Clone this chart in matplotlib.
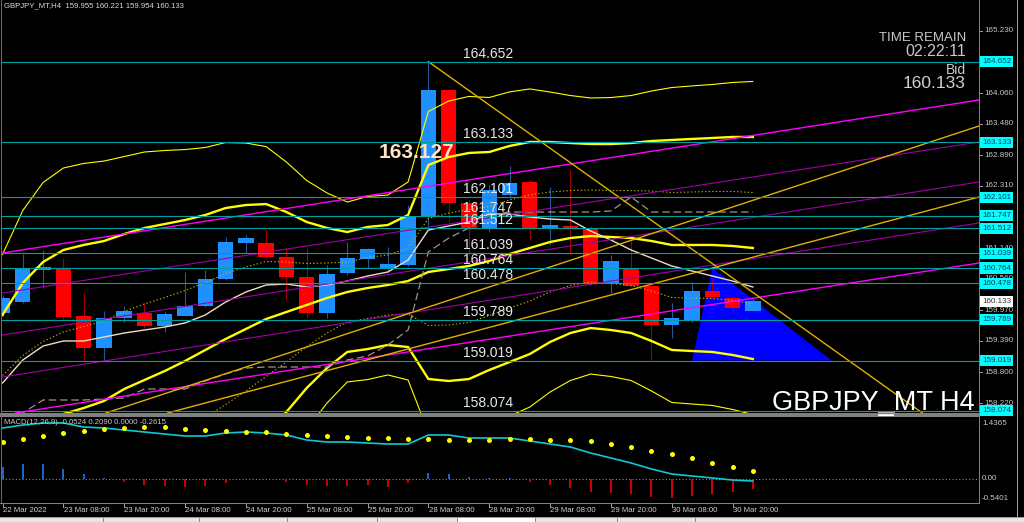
import matplotlib
matplotlib.use("Agg")
import matplotlib.pyplot as plt
from matplotlib.patches import Rectangle, Polygon
from matplotlib.transforms import blended_transform_factory, offset_copy
import numpy as np

plt.rcParams["font.family"] = ["Liberation Sans", "DejaVu Sans"]

# ---------------- data ----------------
title_text = "GBPJPY_MT,H4  159.955 160.221 159.954 160.133"
opens = [159.916, 160.123, 160.726, 160.764, 159.860, 159.257, 159.822, 159.916, 159.671, 159.860,
         160.048, 160.557, 161.235, 161.235, 160.971, 160.595, 159.916, 160.670, 160.934, 160.764,
         160.821, 161.744, 164.118, 161.989, 161.518, 162.140, 162.385, 161.518, 161.556, 161.499,
         160.481, 160.745, 160.425, 159.690, 159.784, 160.331, 160.199, 159.955]
highs = [160.255, 161.028, 161.103, 160.953, 160.293, 159.954, 160.048, 160.123, 159.954, 160.689,
         160.726, 161.348, 161.386, 161.499, 161.141, 161.141, 160.821, 161.254, 161.141, 161.160,
         161.951, 164.652, 164.137, 162.045, 162.328, 162.686, 162.422, 162.290, 162.611, 161.556,
         161.009, 161.292, 160.425, 160.105, 160.500, 160.538, 160.237, 160.221]
lows = [159.860, 160.105, 160.387, 159.803, 159.031, 159.031, 159.747, 159.634, 159.558, 159.860,
        160.029, 160.538, 161.047, 160.953, 160.161, 159.841, 159.822, 160.632, 160.764, 160.689,
        160.802, 161.537, 161.631, 161.009, 161.442, 162.083, 161.292, 161.198, 161.047, 160.444,
        160.293, 160.406, 159.031, 159.445, 159.747, 160.199, 159.916, 159.954]
closes = [160.199, 160.764, 160.783, 159.841, 159.257, 159.822, 159.954, 159.671, 159.897, 160.048,
          160.557, 161.254, 161.329, 160.971, 160.595, 159.916, 160.651, 160.953, 161.122, 160.839,
          161.744, 164.118, 161.989, 161.518, 162.234, 162.366, 161.518, 161.574, 161.499, 160.481,
          160.896, 160.425, 159.690, 159.822, 160.331, 160.218, 160.010, 160.133]

bb_mid = [157.599, 157.749, 157.881, 158.013, 158.126, 158.258, 158.484, 158.654, 158.823, 159.012,
          159.219, 159.426, 159.615, 159.803, 159.935, 160.067, 160.199, 160.312, 160.387, 160.444,
          160.519, 160.689, 160.745, 160.802, 160.896, 161.028, 161.141, 161.254, 161.329, 161.367,
          161.348, 161.329, 161.273, 161.198, 161.198, 161.198, 161.179, 161.141]
bb_sd = [1.140, 1.366, 1.498, 1.545, 1.536, 1.507, 1.460, 1.432, 1.385, 1.328,
         1.272, 1.234, 1.168, 1.083, 0.942, 0.782, 0.660, 0.565, 0.575, 0.565,
         0.622, 1.008, 1.055, 1.065, 1.027, 1.018, 0.999, 0.942, 0.895, 0.867,
         0.876, 0.895, 0.942, 0.989, 0.999, 1.008, 1.027, 1.046]

ma_fast = [158.597, 159.031, 159.294, 159.389, 159.389, 159.464, 159.539, 159.596, 159.652, 159.728,
           159.879, 160.123, 160.312, 160.444, 160.463, 160.406, 160.444, 160.519, 160.613, 160.689,
           160.915, 161.480, 161.556, 161.631, 161.782, 161.782, 161.725, 161.687, 161.669, 161.461,
           161.292, 161.103, 160.953, 160.802, 160.708, 160.613, 160.519, 160.406]
ma_step = [157.712, 158.032, 158.277, 158.277, 158.277, 158.296, 158.315, 158.484, 158.484, 158.484,
           158.635, 158.767, 158.880, 158.899, 158.899, 158.899, 158.899, 159.031, 159.106, 159.313,
           159.596, 161.066, 161.329, 161.518, 161.763, 161.819, 161.819, 161.819, 161.819, 161.819,
           161.838, 162.102, 161.819, 161.819, 161.819, 161.819, 161.819, 161.819]

macd_main = [1.308, 1.385, 1.437, 1.437, 1.334, 1.308, 1.257, 1.206, 1.154, 1.103,
             1.103, 1.180, 1.206, 1.180, 1.129, 1.001, 0.949, 0.949, 0.924, 0.898,
             0.898, 1.129, 1.129, 1.052, 1.052, 1.052, 0.975, 0.898, 0.821, 0.667,
             0.539, 0.410, 0.257, 0.128, 0.077, 0.026, -0.026, -0.0524]
macd_signal = [0.949, 1.026, 1.103, 1.180, 1.231, 1.283, 1.308, 1.334, 1.334, 1.283,
               1.257, 1.231, 1.206, 1.206, 1.154, 1.129, 1.103, 1.077, 1.052, 1.052,
               1.026, 1.026, 1.001, 1.001, 1.001, 1.026, 1.026, 1.001, 1.001, 0.975,
               0.898, 0.821, 0.718, 0.641, 0.539, 0.410, 0.308, 0.209]
macd_hist = [0.308, 0.385, 0.385, 0.257, 0.128, 0.030, -0.077, -0.154, -0.180, -0.205,
             -0.180, -0.103, -0.010, -0.010, -0.077, -0.154, -0.180, -0.180, -0.154, -0.205,
             -0.103, 0.154, 0.128, 0.051, 0.026, 0.026, -0.080, -0.154, -0.231, -0.330,
             -0.360, -0.380, -0.460, -0.490, -0.440, -0.390, -0.340, -0.2615]
macd_label = "MACD(12,26,9) -0.0524 0.2090 0.0000 -0.2615"

levels = [164.652, 163.133, 162.101, 161.747, 161.512, 161.039, 160.764, 160.478, 159.789, 159.019, 158.074]
level_labels = ["164.652", "163.133", "162.101", "161.747", "161.512", "161.039", "160.764", "160.478",
                "159.789", "159.019", "158.074"]
price_ticks = [165.230, 164.060, 163.480, 162.890, 162.310, 161.140, 160.560, 159.970, 159.390, 158.800, 158.220]
price_tick_labels = ["165.230", "164.060", "163.480", "162.890", "162.310", "161.140", "160.560",
                     "159.970", "159.390", "158.800", "158.220"]
macd_ticks = [1.4365, 0.0, -0.5401]
macd_tick_labels = ["1.4365", "0.00", "-0.5401"]
time_labels = ["22 Mar 2022", "23 Mar 08:00", "23 Mar 20:00", "24 Mar 08:00", "24 Mar 20:00",
               "25 Mar 08:00", "25 Mar 20:00", "28 Mar 08:00", "28 Mar 20:00", "29 Mar 08:00",
               "29 Mar 20:00", "30 Mar 08:00", "30 Mar 20:00"]
bid_price = 160.133
marked_price = "163.127"

# chart objects (bar index, price)
triangle_pts = [(34.0, 159.019), (35.0, 160.764), (40.9, 159.019)]
gold_down = [(21.0, 164.652), (45.5, 157.994)]
gold_up1 = [(4.8, 157.994), (48.15, 163.440)]
gold_up2 = [(7.77, 157.994), (48.15, 162.102)]
chan_e = [(0.0, 161.047), (48.15, 163.930)]
chan_a = [(0.0, 160.293), (48.15, 163.138)]
chan_b = [(0.0, 159.502), (48.15, 162.385)]
chan_c = [(0.0, 158.710), (48.15, 161.612)]
chan_d = [(0.0, 157.994), (48.15, 160.858)]

# ---------------- figure ----------------
W, H = 1024, 522
fig = plt.figure(figsize=(W / 100, H / 100), dpi=100, facecolor="black")


def fbox(x0, y0, x1, y1):
    return [x0 / W, 1 - y1 / H, (x1 - x0) / W, (y1 - y0) / H]


def prect(x0, y0, x1, y1, color, z=10):
    fig.add_artist(Rectangle((x0 / W, 1 - y1 / H), (x1 - x0) / W, (y1 - y0) / H,
                             transform=fig.transFigure, facecolor=color, edgecolor="none", zorder=z))


STEP = 20.28
X0PX = 2.5
xlim = ((2 - X0PX) / STEP, (979 - X0PX) / STEP)

ax = fig.add_axes(fbox(2, 0, 979, 413))
ax.set_facecolor("black")
ax.set_xlim(*xlim)
ax.set_ylim(158.032, 165.814)
ax.set_axis_off()

X = np.arange(len(closes))
o = np.array(opens); c = np.array(closes); hi = np.array(highs); lo = np.array(lows)
up = c >= o

# triangle (background object)
ax.add_patch(Polygon(triangle_pts, closed=True, facecolor="#0000ff", edgecolor="none", zorder=1))

# candles
wick_cols = ["#1f5a96" if u else "#a00000" for u in up]
ax.vlines(X, lo, hi, colors=wick_cols, lw=0.8, zorder=3)
body_bot = np.minimum(o, c)
body_h = np.maximum(np.abs(c - o), 0.03)
ax.bar(X, body_h, bottom=body_bot, width=0.76,
       color=["#1e90ff" if u else "#ff0000" for u in up], edgecolor="none", zorder=3)

# Bollinger bands (middle, +-1 sd dotted, +-2 sd thick, +-3 sd thin)
mid = np.array(bb_mid); sd = np.array(bb_sd)
ax.plot(X, mid, color="#ffff00", lw=1.7, zorder=4)
for k, lw in [(2, 1.7), (3, 0.8)]:
    ax.plot(X, mid + k * sd, color="#ffff00", lw=lw, zorder=4)
    ax.plot(X, mid - k * sd, color="#ffff00", lw=lw, zorder=4)
ax.plot(X, mid + sd, color="#b8b800", lw=0.8, ls=(0, (1.2, 2.0)), zorder=4)
ax.plot(X, mid - sd, color="#b8b800", lw=0.8, ls=(0, (1.2, 2.0)), zorder=4)

# moving averages
ax.plot(X, ma_fast, color="#f0dcc4", lw=1.0, zorder=4)
ax.plot(X, ma_step, color="#a09484", lw=0.9, ls=(0, (6, 3)), zorder=4)

# channel lines (extended both ways)
for pts, col, lw in [(chan_e, "#ff00ff", 1.0), (chan_d, "#ff00ff", 1.0),
                     (chan_a, "#a000a8", 0.8), (chan_b, "#a000a8", 0.8), (chan_c, "#a000a8", 0.8),
                     (gold_up1, "#e0b000", 1.0), (gold_up2, "#e0b000", 1.0)]:
    ax.axline(pts[0], pts[1], color=col, lw=lw, zorder=5)
# descending trend line: ray from the high
(t0, p0), (t1, p1) = gold_down
slope = (p1 - p0) / (t1 - t0)
t_end = xlim[1]
ax.plot([t0, t_end], [p0, p0 + slope * (t_end - t0)], color="#e0b000", lw=1.0, zorder=5)

# horizontal levels
lab_x = (463 - X0PX) / STEP
lab_tr = offset_copy(ax.transData, fig=fig, y=1.0, units="dots")
for lv, lab in zip(levels, level_labels):
    ax.axhline(lv, color="#00a0a0", lw=0.8, zorder=5)
    ax.text(lab_x, lv, lab, transform=lab_tr, color="#e8e8e8", fontsize=10,
            ha="left", va="bottom", zorder=6)


def ptext(px, py, s, **kw):
    fig.text(px / W, 1 - py / H, s, **kw)


ptext(379, 153, marked_price, color="#ffe4c4", fontsize=15, fontweight="bold",
      ha="left", va="center", zorder=7)

# right price scale
bt = blended_transform_factory(fig.transFigure, ax.transData)
for p, lab in zip(price_ticks, price_tick_labels):
    ax.text(984 / W, p, lab, transform=bt, color="#c8c8c8", fontsize=5.8, ha="left", va="center",
            clip_on=False, zorder=20)
    ax.plot([979 / W, 982 / W], [p, p], transform=bt, color="#a0a0a0", lw=0.7, clip_on=False, zorder=20)
for lv, lab in zip(levels, level_labels):
    ax.text(982 / W, lv, lab, transform=bt, color="#0b3d5e", fontsize=5.8, ha="left", va="center",
            clip_on=False, zorder=21,
            bbox=dict(boxstyle="square,pad=0.25", facecolor="#00ffff", edgecolor="none"))
ax.text(982 / W, bid_price, f"{bid_price:.3f}", transform=bt, color="#303030", fontsize=5.8,
        ha="left", va="center", clip_on=False, zorder=21,
        bbox=dict(boxstyle="square,pad=0.25", facecolor="#ffffff", edgecolor="none"))

# info texts
ptext(4, 6, title_text, color="#d8d8d8", fontsize=5.6, ha="left", va="center", zorder=30)
ptext(966, 38, "TIME REMAIN", color="#c8c8c8", fontsize=9.5, ha="right", va="center", zorder=30)
ptext(966, 51.5, "02:22:11", color="#c8c8c8", fontsize=11.5, ha="right", va="center", zorder=30)
ptext(966, 70, "Bid", color="#c8c8c8", fontsize=10, ha="right", va="center", zorder=30)
ptext(966, 84, f"{bid_price:.3f}", color="#d0d0d0", fontsize=12.5, ha="right", va="center", zorder=30)
ptext(975, 410, "GBPJPY_MT H4", color="#ffffff", fontsize=19.5, ha="right", va="baseline", zorder=30)

# ---------------- MACD panel ----------------
ax2 = fig.add_axes(fbox(2, 417, 979, 503))
ax2.set_facecolor("black")
ax2.set_xlim(*xlim)
ax2.set_ylim(-0.616, 1.591)
ax2.set_axis_off()
hist = np.array(macd_hist)
ax2.vlines(X, 0, hist, colors=["#1e6fe0" if v >= 0 else "#e00000" for v in hist], lw=1.3, zorder=3)
ax2.axhline(0, color="#8a8a8a", lw=0.8, ls=(0, (1, 2)), zorder=2)
ax2.plot(X, macd_main, color="#10c8d0", lw=1.2, zorder=4)
ax2.plot(X, macd_signal, ls="none", marker="o", ms=3.6, mfc="#ffff00", mec="none", zorder=5)
ax2.text(4 / W, 1 - 423 / H, macd_label, transform=fig.transFigure, color="#c8c8c8", fontsize=5.6,
         ha="left", va="center", zorder=30)
bt2 = blended_transform_factory(fig.transFigure, ax2.transData)
macd_label_nudge = [0.0, 0.0, 0.05]
for v, lab, dv in zip(macd_ticks, macd_tick_labels, macd_label_nudge):
    ax2.text(982 / W, v + dv, lab, transform=bt2, color="#c8c8c8", fontsize=5.8, ha="left",
             va="center", clip_on=False, zorder=20)

# time axis
tt = blended_transform_factory(ax2.transData, fig.transFigure)
for k, lab in enumerate(time_labels):
    i = 3 * k
    ax2.text(i + 0.01, 1 - 510 / H, lab, transform=tt, color="#d0d0d0", fontsize=5.6,
             ha="left", va="center", clip_on=False, zorder=20)
    ax2.plot([i, i], [1 - 503 / H, 1 - 507 / H], transform=tt, color="#a0a0a0", lw=0.7,
             clip_on=False, zorder=20)

# frame pieces
prect(0, 413, 979.5, 416.5, "#808080")
prect(0, 502.5, 979.5, 503.5, "#808080")
prect(978.5, 0, 979.5, 503.5, "#808080")
prect(1, 0, 2, 503, "#6a6a6a")
prect(878, 411.5, 895, 413, "#b0b0b0", z=11)
prect(1017, 0, 1018, 517, "#a0a0a0")
prect(0, 517, 1024, 522, "#e6e6e6")
prect(457, 517.5, 535, 522, "#ffffff", z=11)
for sx in [103, 199, 287, 377, 457, 535, 617, 695]:
    prect(sx, 517, sx + 1, 522, "#8a8a8a", z=12)
prect(0, 517, 1024, 517.8, "#9a9a9a", z=12)

fig.savefig("out.png", dpi=100, facecolor="black")
